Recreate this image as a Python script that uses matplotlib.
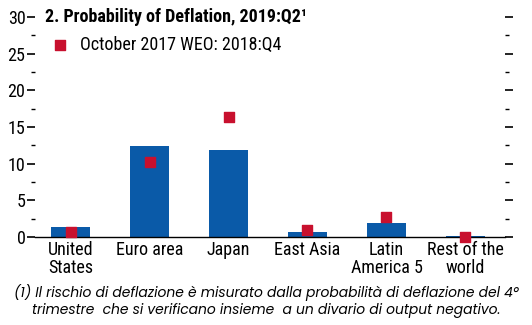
import numpy as np
import matplotlib.pyplot as plt
from matplotlib.ticker import MultipleLocator

plt.rcParams['font.family'] = ['Roboto Condensed', 'Archivo Narrow', 'DejaVu Sans']

regions = ['United\nStates', 'Euro area', 'Japan', 'East Asia', 'Latin\nAmerica 5', 'Rest of the\nworld']
prob_2019q2 = [1.4, 12.4, 11.8, 0.7, 1.9, 0.15]
weo_2018q4 = [0.7, 10.2, 16.4, 0.9, 2.7, 0.0]

blue = '#0a5aa8'
red = '#c8102e'

fig = plt.figure(figsize=(5.32, 3.25), dpi=100)
ax = fig.add_axes([0.066, 0.271, 0.883, 0.677])

x = np.arange(len(regions))
ax.bar(x, prob_2019q2, width=0.5, color=blue, zorder=2)
ax.scatter(x, weo_2018q4, marker='s', s=42, color=red, zorder=3, clip_on=False)

ax.set_xlim(-0.45, 5.5)
ax.set_ylim(0, 30)
ax.yaxis.set_minor_locator(MultipleLocator(2.5))
ax.set_yticks(range(0, 31, 5))
ax.set_yticklabels([str(v) for v in range(0, 31, 5)], fontsize=13)

ax.set_xticks(x)
ax.set_xticklabels(regions, fontsize=13, linespacing=1.0)
ax.tick_params(axis='x', length=0, pad=3)

for s in ['top', 'left', 'right']:
    ax.spines[s].set_visible(False)
ax.spines['bottom'].set_linewidth(1.0)

ax.tick_params(axis='y', which='major', length=6, width=1.2, direction='out', pad=1,
               right=True, labelright=False)
ax.tick_params(axis='y', which='minor', length=3, width=1.0, direction='out',
               right=True)

ax.text(0.02, 30, '2. Probability of Deflation, 2019:Q2¹', transform=ax.get_yaxis_transform(),
        fontsize=13, fontweight='bold', va='center', ha='left')
ax.scatter([0.052], [26.2], marker='s', s=42, color=red, transform=ax.get_yaxis_transform(), clip_on=False)
ax.text(0.095, 26.2, 'October 2017 WEO: 2018:Q4', transform=ax.get_yaxis_transform(),
        fontsize=13, va='center', ha='left')

note_font = ['Poppins', 'DejaVu Sans']
fig.text(0.5, 0.1, '(1) Il rischio di deflazione è misurato dalla probabilità di deflazione del 4°',
         ha='center', va='center', fontsize=10, style='italic', family=note_font)
fig.text(0.5, 0.045, 'trimestre  che si verificano insieme  a un divario di output negativo.',
         ha='center', va='center', fontsize=10, style='italic', family=note_font)

fig.savefig('out.png', dpi=100)
